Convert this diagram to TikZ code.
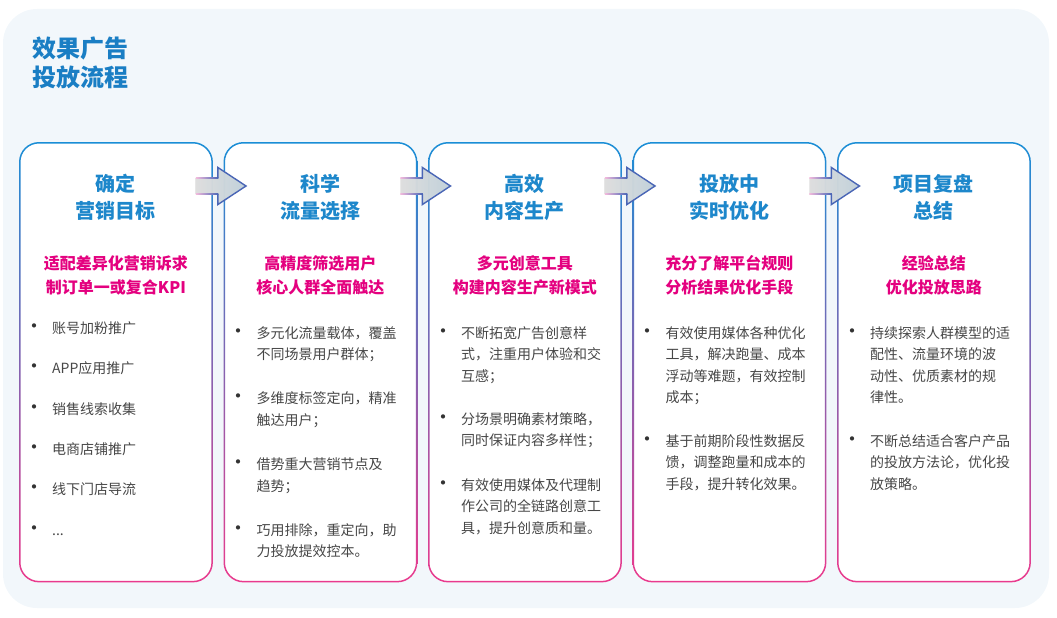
\documentclass[tikz,border=0pt]{standalone}
\usepackage{fontspec}
\setmainfont{Noto Sans CJK SC}
\usetikzlibrary{calc}
\definecolor{panel}{HTML}{F2F7FB}
\definecolor{titleblue}{HTML}{1A7EC4}
\definecolor{headblue}{HTML}{1D87CB}
\definecolor{subpink}{HTML}{E4007F}
\definecolor{bodygray}{HTML}{474747}
\definecolor{bulletc}{HTML}{333333}
\definecolor{bordertop}{HTML}{1A8ED6}
\definecolor{borderbot}{HTML}{EA3A8D}
\definecolor{arrowline}{HTML}{4A66B6}
\definecolor{arrowfill}{HTML}{DDEFFA}
\definecolor{shaftpink}{HTML}{D8399A}
\newcommand{\bl}{\makebox[8pt][c]{\textcolor{bulletc}{\fontsize{20}{20}\selectfont •}}\hspace{14pt}}
\newcommand{\ind}{\hspace*{22pt}}
\begin{document}
\begin{tikzpicture}[x=1pt,y=-1pt,
  card/.style={draw=none, fill=white, rounded corners=20pt, minimum width=193.5pt, minimum height=440pt, anchor=north west, inner sep=0pt},
  titletext/.style={font=\fontsize{24}{28.5}\selectfont\bfseries, text=titleblue, align=left, anchor=base west, inner sep=0pt},
  headtext/.style={font=\fontsize{20}{27}\selectfont\bfseries, text=headblue, align=center, anchor=base, inner sep=0pt},
  subtext/.style={font=\fontsize{16}{24}\selectfont\bfseries, text=subpink, align=center, anchor=base, inner sep=0pt},
  bodytext/.style={font=\fontsize{14}{21.5}\selectfont, text=bodygray, align=left, anchor=base west, inner sep=0pt},
]
\useasboundingbox (0,0) rectangle (1057,618);
\fill[panel, rounded corners=34pt] (3,9) rectangle (1049,608);

% multi-line nodes are anchored at the baseline of their last line
\node[titletext] (title) at (32,86.5) {效果广告\\投放流程};

\node[card] (c1) at (19,142) {};
\node[card] (c2) at (223.5,142) {};
\node[card] (c3) at (428,142) {};
\node[card] (c4) at (632.5,142) {};
\node[card] (c5) at (837,142) {};

\foreach \cc in {c1,c2,c3,c4,c5}{
  \shade[top color=bordertop, bottom color=borderbot, even odd rule]
    [rounded corners=20pt] (\cc.north west) rectangle (\cc.south east)
    [rounded corners=18.5pt] ($(\cc.north west)+(1.5,1.5)$) rectangle ($(\cc.south east)+(-1.5,-1.5)$);
}

% arrows between cards
\foreach \a/\b in {c1/c2,c2/c3,c3/c4,c4/c5}{
  \fill[left color=white, right color=arrowfill, fill opacity=0.85]
    ($(\a.north east)+(-17,36)$) -- ($(\a.north east)+(5,36)$) -- ($(\a.north east)+(5,25.5)$)
    -- ($(\b.north west)+(22.5,44)$) -- ($(\a.north east)+(5,62.5)$) -- ($(\a.north east)+(5,52)$)
    -- ($(\a.north east)+(-17,52)$) -- cycle;
  \shade[left color=shaftpink!35, right color=arrowline]
    ($(\a.north east)+(-17,35.3)$) rectangle ($(\a.north east)+(5.5,36.7)$);
  \shade[left color=shaftpink!35, right color=arrowline]
    ($(\a.north east)+(-17,51.3)$) rectangle ($(\a.north east)+(5.5,52.7)$);
  \draw[arrowline, line width=1.4pt, line join=miter]
    ($(\a.north east)+(5,36)$) -- ($(\a.north east)+(5,25.5)$)
    -- ($(\b.north west)+(22.5,44)$) -- ($(\a.north east)+(5,62.5)$) -- ($(\a.north east)+(5,52)$);
}

% headings
\node[headtext] (h1) at ($(c1.north)+(0,76.6)$) {确定\\营销目标};
\node[headtext] (h2) at ($(c2.north)+(0,76.6)$) {科学\\流量选择};
\node[headtext] (h3) at ($(c3.north)+(0,76.6)$) {高效\\内容生产};
\node[headtext] (h4) at ($(c4.north)+(0,76.6)$) {投放中\\实时优化};
\node[headtext] (h5) at ($(c5.north)+(0,76.6)$) {项目复盘\\总结};

\node[subtext] (s1) at ($(c1.north)+(0,151)$) {适配差异化营销诉求\\制订单一或复合KPI};
\node[subtext] (s2) at ($(c2.north)+(0,151)$) {高精度筛选用户\\核心人群全面触达};
\node[subtext] (s3) at ($(c3.north)+(0,151)$) {多元创意工具\\构建内容生产新模式};
\node[subtext] (s4) at ($(c4.north)+(0,151)$) {充分了解平台规则\\分析结果优化手段};
\node[subtext] (s5) at ($(c5.north)+(0,151)$) {经验总结\\优化投放思路};

% card 1 bullets
\node[bodytext] (b11) at ($(c1.north west)+(11,191.3)$) {\bl 账号加粉推广};
\node[bodytext] (b12) at ($(c1.north west)+(11,231.6)$) {\bl APP应用推广};
\node[bodytext] (b13) at ($(c1.north west)+(11,272.0)$) {\bl 销售线索收集};
\node[bodytext] (b14) at ($(c1.north west)+(11,312.3)$) {\bl 电商店铺推广};
\node[bodytext] (b15) at ($(c1.north west)+(11,352.6)$) {\bl 线下门店导流};
\node[bodytext] (b16) at ($(c1.north west)+(11,393.0)$) {\bl ...};

% card 2 bullets
\node[bodytext] (b21) at ($(c2.north west)+(11,217.8)$) {\bl 多元化流量载体，覆盖\\\ind 不同场景用户群体；};
\node[bodytext] (b22) at ($(c2.north west)+(11,283.3)$) {\bl 多维度标签定向，精准\\\ind 触达用户；};
\node[bodytext] (b23) at ($(c2.north west)+(11,349.0)$) {\bl 借势重大营销节点及\\\ind 趋势；};
\node[bodytext] (b24) at ($(c2.north west)+(11,414.8)$) {\bl 巧用排除，重定向，助\\\ind 力投放提效控本。};

% card 3 bullets
\node[bodytext] (b31) at ($(c3.north west)+(11,239.3)$) {\bl 不断拓宽广告创意样\\\ind 式，注重用户体验和交\\\ind 互感；};
\node[bodytext] (b32) at ($(c3.north west)+(11,303.8)$) {\bl 分场景明确素材策略，\\\ind 同时保证内容多样性；};
\node[bodytext] (b33) at ($(c3.north west)+(11,391.3)$) {\bl 有效使用媒体及代理制\\\ind 作公司的全链路创意工\\\ind 具，提升创意质和量。};

% card 4 bullets
\node[bodytext] (b41) at ($(c4.north west)+(11,260.8)$) {\bl 有效使用媒体各种优化\\\ind 工具，解决跑量、成本\\\ind 浮动等难题，有效控制\\\ind 成本；};
\node[bodytext] (b42) at ($(c4.north west)+(11,347.3)$) {\bl 基于前期阶段性数据反\\\ind 馈，调整跑量和成本的\\\ind 手段，提升转化效果。};

% card 5 bullets
\node[bodytext] (b51) at ($(c5.north west)+(11,260.8)$) {\bl 持续探索人群模型的适\\\ind 配性、流量环境的波\\\ind 动性、优质素材的规\\\ind 律性。};
\node[bodytext] (b52) at ($(c5.north west)+(11,347.3)$) {\bl 不断总结适合客户产品\\\ind 的投放方法论，优化投\\\ind 放策略。};
\end{tikzpicture}
\end{document}
